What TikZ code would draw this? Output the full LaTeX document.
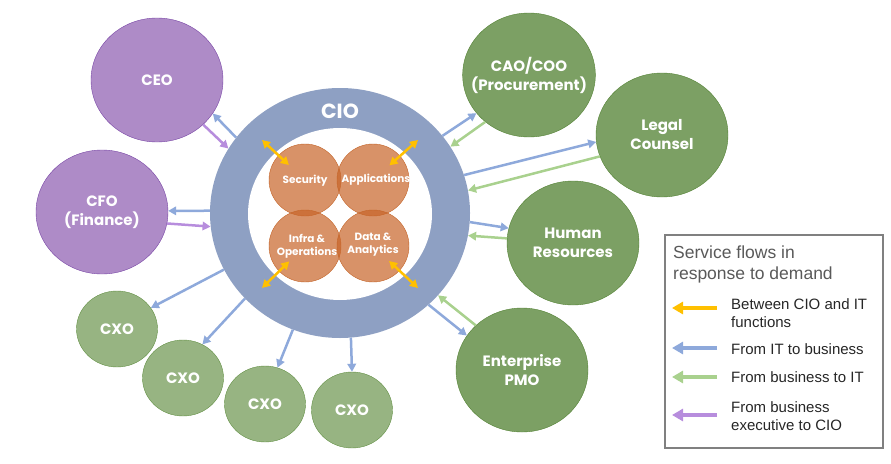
\documentclass[tikz,border=0pt]{standalone}
\usepackage{fontspec}
\setmainfont{Liberation Sans}
\newfontfamily\popfont{Poppins}
\usetikzlibrary{arrows.meta,shapes.geometric}
\definecolor{ringblue}{RGB}{142,160,195}
\definecolor{execfill}{RGB}{174,139,199}
\definecolor{execline}{RGB}{120,70,165}
\definecolor{deptfill}{RGB}{124,160,100}
\definecolor{deptline}{RGB}{84,130,53}
\definecolor{cxofill}{RGB}{151,180,130}
\definecolor{cxoline}{RGB}{100,145,70}
\definecolor{funcfill}{RGB}{200,100,40}
\definecolor{funcline}{RGB}{196,100,40}
\definecolor{itblue}{RGB}{142,169,219}
\definecolor{bizgreen}{RGB}{169,209,142}
\definecolor{execpurple}{RGB}{183,141,221}
\definecolor{cioyellow}{RGB}{255,192,0}

\begin{document}
\begin{tikzpicture}[x=1pt, y=-1pt,
        exec/.style={ellipse, draw=execline, fill=execfill, inner sep=0pt, minimum width=132pt, minimum height=124pt, text=white, align=center, font=\popfont\bfseries\fontsize{15}{19}\selectfont},
        dept/.style={exec, draw=deptline, fill=deptfill},
        cxo/.style={exec, draw=cxoline, fill=cxofill, minimum width=81pt, minimum height=76pt},
        func/.style={circle, draw=funcline, fill=funcfill, fill opacity=0.7, minimum size=72pt, inner sep=0pt},
        funclabel/.style={text=white, align=center, inner sep=0pt, font=\popfont\bfseries\fontsize{10.5}{13}\selectfont},
        flow/.style={-{Triangle[length=8pt,width=8.5pt]}, line width=2.5pt},
        pair/.style={{Triangle[length=8pt,width=8.5pt]}-{Triangle[length=8pt,width=8.5pt]}, line width=2.5pt, cioyellow, shorten >=22pt},
        key/.style={-{Triangle[length=11pt,width=12pt]}, line width=4pt},
        keytext/.style={anchor=west, inner sep=0pt, align=left, text=black!85, font=\fontsize{15}{18}\selectfont}
    ]
        \useasboundingbox (0,0) rectangle (891,463);

        % 1. The CIO ring
        \node[ellipse, fill=ringblue, minimum width=260pt, minimum height=250pt, inner sep=0pt] (cio) at (340,213) {};
        \node[ellipse, fill=white, minimum width=184pt, minimum height=172pt, inner sep=0pt] (core) at (340,214) {};
        \node[text=white, font=\popfont\bfseries\fontsize{20.5}{24}\selectfont] (ciolabel) at (340,111) {CIO};

        % 2. IT functions
        \node[func] (sec) at (305,180) {};
        \node[func] (app) at (373,180) {};
        \node[func] (infra) at (305,246) {};
        \node[func] (data) at (373,246) {};
        \node[funclabel] at (305,181) {Security};
        \node[funclabel] at (376,180) {Applications};
        \node[funclabel] at (307,246) {Infra \&\\Operations};
        \node[funclabel] at (373,245) {Data \&\\Analytics};

        % 3. Business executives
        \node[exec] (ceo) at (157,80) {CEO};
        \node[exec] (cfo) at (102,212) {CFO\\(Finance)};

        % 4. Business functions
        \node[dept, inner xsep=-11pt] (cao) at (529,75) {CAO/COO\\(Procurement)};
        \node[dept] (legal) at (662,135) {Legal\\Counsel};
        \node[dept] (hr) at (573,243) {Human\\Resources};
        \node[dept] (pmo) at (522,370) {Enterprise\\PMO};
        \node[cxo] (cxo1) at (117,329) {CXO};
        \node[cxo] (cxo2) at (183,378) {CXO};
        \node[cxo] (cxo3) at (265,404) {CXO};
        \node[cxo] (cxo4) at (352,410) {CXO};

        % Arrows between CIO and IT functions
        \coordinate (secout) at (262,140);
        \coordinate (appout) at (418,140);
        \coordinate (infraout) at (262,288);
        \coordinate (dataout) at (418,288);
        \draw[pair] (secout) -- (sec.center);
        \draw[pair] (appout) -- (app.center);
        \draw[pair] (infraout) -- (infra.center);
        \draw[pair] (dataout) -- (data.center);

        % Arrows to and from the business
        \draw[flow, itblue] (cio.144) -- (ceo.-31);
        \draw[flow, execpurple] (ceo.-44) -- (cio.150);
        \draw[flow, itblue] (cio.179) -- (cfo.1);
        \draw[flow, execpurple] (cfo.-10) -- (cio.186);
        \draw[flow, itblue] (cio.37) -- (cao.216);
        \draw[flow, bizgreen] (cao.227) -- (cio.31);
        \draw[flow, itblue] (cio.17) -- (legal.186);
        \draw[flow, bizgreen] (legal.199) -- (cio.10);
        \draw[flow, itblue] (cio.-4) -- (hr.167);
        \draw[flow, bizgreen] (hr.176) -- (cio.-10);
        \draw[flow, bizgreen] (pmo.136) -- (cio.-40);
        \draw[flow, itblue] (cio.-46) -- (pmo.148);
        \draw[flow, itblue] (cio.206) -- (cxo1.32);
        \draw[flow, itblue] (cio.222) -- (cxo2.60);
        \draw[flow, itblue] (cio.248) -- (cxo3.71);
        \draw[flow, itblue] (cio.275) -- (cxo4.90);

        % 5. Legend
        \node[draw=gray, line width=1.5pt, minimum width=218pt, minimum height=213pt, inner sep=0pt] (legend) at (774,341.5) {};
        \node[anchor=west, inner sep=0pt, align=left, text=black!65, font=\fontsize{17.5}{21}\selectfont] (keytitle) at (673,264) {Service flows in\\response to demand};
        \coordinate (k1) at (717,308);
        \coordinate (k2) at (717,348);
        \coordinate (k3) at (717,377);
        \coordinate (k4) at (717,415);
        \draw[key, cioyellow] (k1) -- ++(-45,0);
        \draw[key, itblue] (k2) -- ++(-45,0);
        \draw[key, bizgreen] (k3) -- ++(-45,0);
        \draw[key, execpurple] (k4) -- ++(-45,0);
        \node[keytext] (t1) at (731,313) {Between CIO and IT\\functions};
        \node[keytext] (t2) at (731,349.5) {From IT to business};
        \node[keytext] (t3) at (731,377) {From business to IT};
        \node[keytext] (t4) at (731,416) {From business\\executive to CIO};

    \end{tikzpicture}
\end{document}
